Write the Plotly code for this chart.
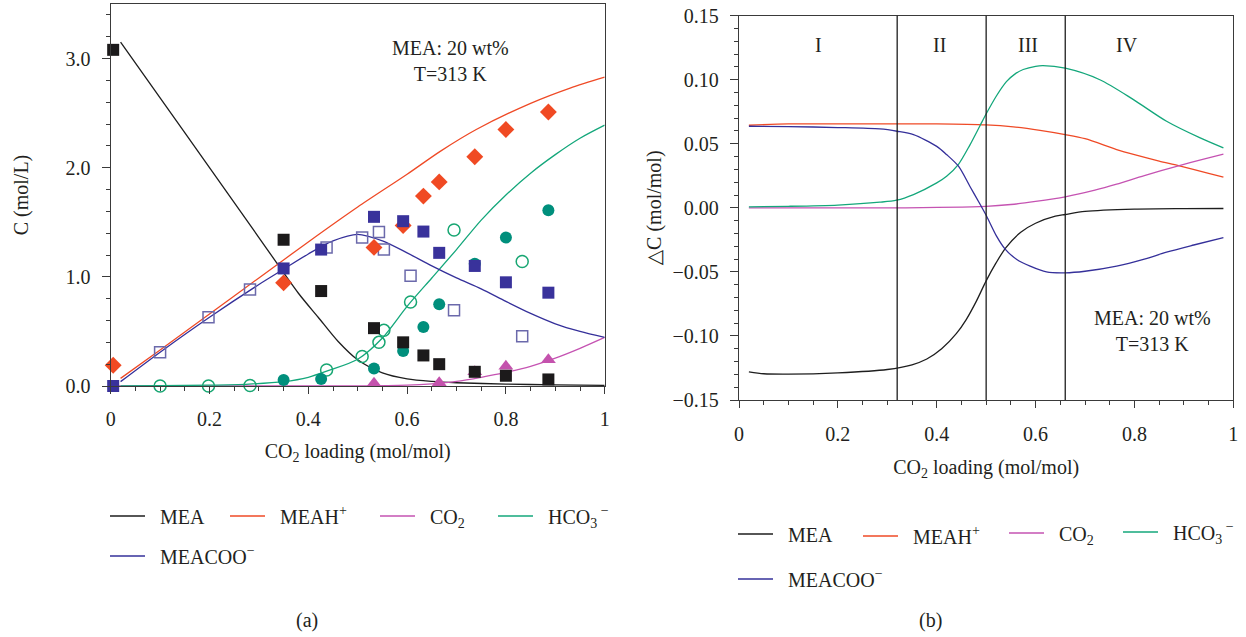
import plotly.graph_objects as go

W, H = 1246, 637
FONT = "Liberation Serif, DejaVu Serif, serif"

# ---------------- Panel (a): model curves ----------------
a_mea_x = [0.02, 0.1, 0.2, 0.3, 0.38, 0.42, 0.46, 0.5, 0.55, 0.6, 0.65, 0.7, 0.8, 0.9, 1.0]
a_mea_y = [3.15, 2.64, 2.0, 1.36, 0.85, 0.63, 0.41, 0.24, 0.12, 0.065, 0.042, 0.03, 0.018, 0.01, 0.006]

a_meah_x = [0.02, 0.1, 0.2, 0.3, 0.4, 0.5, 0.6, 0.667, 0.74, 0.85, 0.93, 1.0]
a_meah_y = [0.07, 0.33, 0.66, 0.99, 1.32, 1.64, 1.94, 2.15, 2.35, 2.59, 2.73, 2.83]

a_co2_x = [0.0, 0.5, 0.6, 0.65, 0.7, 0.75, 0.8, 0.85, 0.9, 0.95, 1.0]
a_co2_y = [0.0, 0.001, 0.008, 0.02, 0.042, 0.08, 0.125, 0.18, 0.255, 0.345, 0.445]

a_hco3_x = [0.02, 0.1, 0.2, 0.28, 0.35, 0.4, 0.44, 0.5, 0.55, 0.6, 0.65, 0.7, 0.75, 0.8, 0.85, 0.9, 0.95, 1.0]
a_hco3_y = [0.0, 0.003, 0.008, 0.018, 0.04, 0.08, 0.14, 0.245, 0.44, 0.73, 0.99, 1.25, 1.52, 1.75, 1.95, 2.12, 2.27, 2.39]

a_meacoo_x = [0.02, 0.1, 0.2, 0.3, 0.35, 0.4, 0.45, 0.5, 0.55, 0.6, 0.65, 0.7, 0.75, 0.8, 0.85, 0.9, 0.95, 1.0]
a_meacoo_y = [0.04, 0.31, 0.63, 0.93, 1.07, 1.21, 1.33, 1.39, 1.33, 1.22, 1.10, 0.99, 0.89, 0.775, 0.665, 0.57, 0.50, 0.445]

# ---------------- Panel (a): measured points ----------------
exp_x = [0.005, 0.35, 0.426, 0.533, 0.592, 0.633, 0.665, 0.737, 0.80, 0.886]
exp_mea = [3.08, 1.34, 0.87, 0.53, 0.40, 0.28, 0.20, 0.13, 0.094, 0.06]
exp_meah = [0.19, 0.945, None, 1.27, 1.47, 1.74, 1.87, 2.10, 2.35, 2.51]
exp_meacoo = [0.0, 1.077, 1.25, 1.55, 1.51, 1.415, 1.22, 1.10, 0.95, 0.855]
exp_hco3 = [None, 0.055, 0.064, 0.16, 0.32, 0.54, 0.75, 1.12, 1.36, 1.61]

exp_co2_x = [0.533, 0.665, 0.737, 0.80, 0.886]
exp_co2 = [0.025, 0.03, 0.13, 0.18, 0.24]

lit_x = [0.10, 0.198, 0.282, 0.437, 0.509, 0.543, 0.553, 0.607, 0.695, 0.833]
lit_meacoo = [0.31, 0.63, 0.885, 1.27, 1.36, 1.41, 1.25, 1.01, 0.695, 0.455]
lit_hco3 = [0.0, 0.0, 0.005, 0.146, 0.27, 0.40, 0.51, 0.77, 1.43, 1.14]

# ---------------- Panel (b): delta C curves ----------------
b_mea_x = [0.02, 0.05, 0.1, 0.2, 0.3, 0.35, 0.38, 0.41, 0.44, 0.46, 0.48, 0.5, 0.52, 0.54, 0.57, 0.6, 0.64, 0.66, 0.7, 0.8, 0.9, 0.98]
b_mea_y = [-0.128, -0.1295, -0.1298, -0.1288, -0.1262, -0.1225, -0.118, -0.110, -0.098, -0.087, -0.073, -0.057, -0.043, -0.031, -0.019, -0.012, -0.0065, -0.0052, -0.0028, -0.001, -0.0006, -0.0005]

b_meah_x = [0.02, 0.1, 0.2, 0.3, 0.4, 0.5, 0.555, 0.609, 0.66, 0.7, 0.764, 0.8, 0.85, 0.889, 0.95, 0.98]
b_meah_y = [0.0645, 0.0655, 0.0656, 0.0656, 0.0655, 0.0647, 0.0632, 0.0605, 0.0572, 0.054, 0.0455, 0.0415, 0.0365, 0.033, 0.027, 0.0239]

b_co2_x = [0.02, 0.3, 0.5, 0.55, 0.6, 0.66, 0.72, 0.764, 0.82, 0.889, 0.94, 0.98]
b_co2_y = [0.0, 0.0, 0.0012, 0.0026, 0.005, 0.0086, 0.0138, 0.0185, 0.0252, 0.0328, 0.038, 0.042]

b_hco3_x = [0.02, 0.1, 0.2, 0.285, 0.319, 0.353, 0.4, 0.42, 0.444, 0.467, 0.488, 0.501, 0.521, 0.541, 0.56, 0.575, 0.6, 0.615, 0.66, 0.73, 0.798, 0.865, 0.933, 0.98]
b_hco3_y = [0.0008, 0.0012, 0.0022, 0.0044, 0.006, 0.0104, 0.0195, 0.0247, 0.034, 0.049, 0.0645, 0.074, 0.0875, 0.0985, 0.105, 0.108, 0.1105, 0.111, 0.109, 0.100, 0.0845, 0.0676, 0.0546, 0.0468]

b_meacoo_x = [0.02, 0.1, 0.2, 0.285, 0.32, 0.353, 0.4, 0.42, 0.444, 0.467, 0.488, 0.501, 0.521, 0.538, 0.562, 0.589, 0.622, 0.66, 0.7, 0.764, 0.82, 0.865, 0.92, 0.98]
b_meacoo_y = [0.0637, 0.0634, 0.0627, 0.0616, 0.0598, 0.0572, 0.048, 0.0416, 0.0325, 0.0169, 0.0026, -0.0066, -0.0221, -0.032, -0.0403, -0.0455, -0.0500, -0.0507, -0.0495, -0.0455, -0.040, -0.0346, -0.029, -0.0232]

region_bounds = [0.32, 0.5, 0.66]
region_labels = ["I", "II", "III", "IV"]
region_label_x = [0.16, 0.405, 0.585, 0.785]

series_names = ["MEA", "MEAH<sup>+</sup>", "CO<sub>2</sub>", "HCO<sub>3</sub><sup> \u2212</sup>", "MEACOO<sup>\u2212</sup>"]
series_colors = ["#1e1e1e", "#ef4a26", "#c553b2", "#14a77b", "#35309a"]

# legend anchor points (pixels): line start x, centre y
legend_pos_a = [(110, 516), (230, 516), (380, 516), (498, 516), (110, 556)]
legend_pos_b = [(738, 534), (863, 536), (1009, 533), (1123, 532), (738, 579)]

fig = go.Figure()

a_curves = [(a_mea_x, a_mea_y), (a_meah_x, a_meah_y), (a_co2_x, a_co2_y), (a_hco3_x, a_hco3_y), (a_meacoo_x, a_meacoo_y)]
b_curves = [(b_mea_x, b_mea_y), (b_meah_x, b_meah_y), (b_co2_x, b_co2_y), (b_hco3_x, b_hco3_y), (b_meacoo_x, b_meacoo_y)]

legend_keys = ["legend"] + ["legend%d" % i for i in range(2, 11)]
PAD = "\u00a0\u00a0"

for i, (xs, ys) in enumerate(a_curves):
    fig.add_trace(go.Scatter(x=xs, y=ys, mode="lines", name=PAD + series_names[i],
                             line=dict(color=series_colors[i], width=1.3, shape="spline", smoothing=0.8),
                             xaxis="x", yaxis="y", legend=legend_keys[i]))
for i, (xs, ys) in enumerate(b_curves):
    fig.add_trace(go.Scatter(x=xs, y=ys, mode="lines", name=PAD + series_names[i],
                             line=dict(color=series_colors[i], width=1.3, shape="spline", smoothing=0.8),
                             xaxis="x2", yaxis="y2", legend=legend_keys[5 + i]))

# measured points panel (a)
def pts(x, y, symbol, color, size, line_color=None, lw=0):
    fig.add_trace(go.Scatter(x=x, y=y, mode="markers", showlegend=False, cliponaxis=False,
                             marker=dict(symbol=symbol, color=color, size=size,
                                         line=dict(color=line_color or color, width=lw)),
                             xaxis="x", yaxis="y"))

pts(lit_x, lit_meacoo, "square-open", "#6b69ab", 11, "#6b69ab", 1.5)
pts(lit_x, lit_hco3, "circle-open", "#17a672", 12, "#17a672", 1.5)
pts(exp_x, exp_meah, "diamond", "#f04a23", 13)
pts(exp_x, exp_hco3, "circle", "#008f7c", 12)
pts(exp_co2_x, exp_co2, "triangle-up", "#c452ad", 13)
pts(exp_x, exp_mea, "square", "#1c1a1b", 12)
pts(exp_x, exp_meacoo, "square", "#39329b", 12)

axis_line = "#3a3a3a"
txt_color = "#231f20"
tickfont = dict(family=FONT, size=20, color=txt_color)

def axis_common():
    return dict(showline=True, linecolor=axis_line, linewidth=1.3, mirror=True,
                ticks="outside", ticklen=8, tickwidth=1.2, tickcolor=axis_line,
                showgrid=False, zeroline=False, tickfont=tickfont, automargin=False)

xa = axis_common()
xa.update(domain=[110.7 / W, 604.7 / W], range=[0, 1], dtick=0.2, tick0=0, ticklen=7,
          minor=dict(dtick=0.05, ticks="outside", ticklen=4, tickcolor=axis_line, showgrid=False),
          ticklabelstandoff=8, anchor="y",
          title=dict(text="CO<sub>2</sub> loading (mol/mol)", font=dict(family=FONT, size=20, color=txt_color), standoff=14))
ya = axis_common()
ya.update(domain=[1 - 386 / H, 1 - 4 / H], range=[0, 3.5], tickvals=[0, 1, 2, 3], tickformat=".1f",
          minor=dict(dtick=0.2, ticks="outside", ticklen=4, tickcolor=axis_line, showgrid=False),
          ticklabelstandoff=7, anchor="x",
          title=dict(text="C (mol/L)", font=dict(family=FONT, size=20, color=txt_color), standoff=31))
xb = axis_common()
xb.update(domain=[739 / W, 1233.3 / W], range=[0, 1], dtick=0.2, tick0=0, ticklen=7,
          minor=dict(dtick=0.05, ticks="outside", ticklen=4, tickcolor=axis_line, showgrid=False),
          ticklabelstandoff=9, anchor="y2",
          title=dict(text="CO<sub>2</sub> loading (mol/mol)", font=dict(family=FONT, size=20, color=txt_color), standoff=15))
yb = axis_common()
yb.update(domain=[1 - 400 / H, 1 - 15.7 / H], range=[-0.15, 0.15], dtick=0.05, tick0=0, tickformat=".2f",
          minor=dict(dtick=0.01, ticks="outside", ticklen=4, tickcolor=axis_line, showgrid=False),
          ticklabelstandoff=7, anchor="x2",
          title=dict(text="\u25b3C (mol/mol)", font=dict(family=FONT, size=20, color=txt_color), standoff=5))

layout = dict(width=W, height=H, autosize=False, margin=dict(l=0, r=0, t=0, b=0),
              paper_bgcolor="white", plot_bgcolor="white",
              font=dict(family=FONT, size=20, color=txt_color),
              xaxis=xa, yaxis=ya, xaxis2=xb, yaxis2=yb)

positions = legend_pos_a + legend_pos_b
for k, (px, py) in zip(legend_keys, positions):
    layout[k] = dict(x=(px - 5) / W, y=1 - py / H, xanchor="left", yanchor="middle",
                     orientation="h", bgcolor="rgba(0,0,0,0)", borderwidth=0,
                     font=dict(family=FONT, size=20, color=txt_color), itemwidth=35,
                     tracegroupgap=0)

fig.update_layout(**layout)

# vertical region boundaries in panel (b)
for b in region_bounds:
    fig.add_shape(type="line", xref="x2", yref="y2 domain", x0=b, x1=b, y0=0, y1=1,
                  line=dict(color="#1e1e1e", width=1.3))

annots = []
for lab, lx in zip(region_labels, region_label_x):
    annots.append(dict(text=lab, x=lx, y=0.1274, xref="x2", yref="y2", showarrow=False,
                       xanchor="center", yanchor="middle",
                       font=dict(family=FONT, size=20, color=txt_color)))
annots.append(dict(text="MEA: 20 wt%<br>T=313 K", x=0.687, y=2.98, xref="x", yref="y", showarrow=False,
                   xanchor="center", yanchor="middle",
                   font=dict(family=FONT, size=20, color=txt_color)))
annots.append(dict(text="MEA: 20 wt%<br>T=313 K", x=0.836, y=-0.0965, xref="x2", yref="y2", showarrow=False,
                   xanchor="center", yanchor="middle",
                   font=dict(family=FONT, size=20, color=txt_color)))
annots.append(dict(text="(a)", x=307 / W, y=1 - 620 / H, xref="paper", yref="paper", showarrow=False,
                   xanchor="center", yanchor="middle",
                   font=dict(family=FONT, size=20, color=txt_color)))
annots.append(dict(text="(b)", x=930 / W, y=1 - 620 / H, xref="paper", yref="paper", showarrow=False,
                   xanchor="center", yanchor="middle",
                   font=dict(family=FONT, size=20, color=txt_color)))
fig.update_layout(annotations=annots)

fig.write_html("out.html")
